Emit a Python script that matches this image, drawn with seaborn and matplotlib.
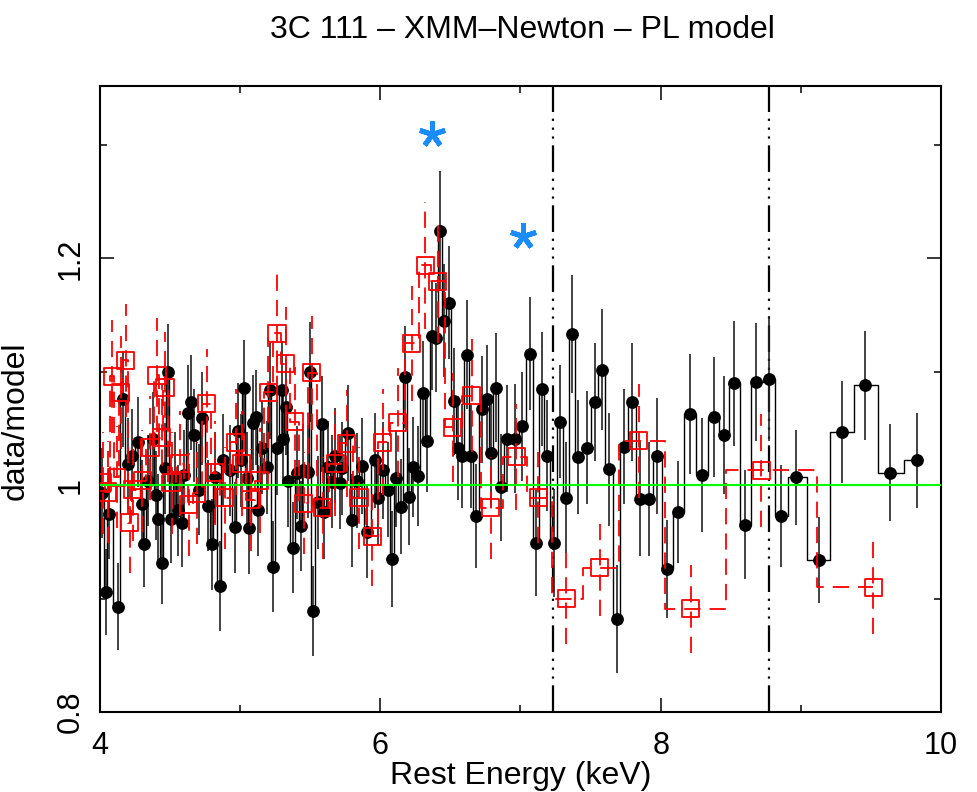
import numpy as np
import matplotlib
matplotlib.use("Agg")
import matplotlib.pyplot as plt
import seaborn as sns

# pn ratio (black filled circles)
energy_pn = [4.014, 4.043, 4.064, 4.128, 4.164, 4.200, 4.228, 4.271, 4.300, 4.314,
             4.342, 4.378, 4.400, 4.414, 4.442, 4.464, 4.485, 4.507, 4.535, 4.556,
             4.585, 4.599, 4.628, 4.649, 4.671, 4.706, 4.728, 4.770, 4.799, 4.820,
             4.856, 4.877, 4.927, 4.963, 4.985, 5.006, 5.027, 5.049, 5.063, 5.092,
             5.113, 5.127, 5.156, 5.191, 5.213, 5.234, 5.263, 5.298, 5.306, 5.327,
             5.341, 5.377, 5.405, 5.434, 5.448, 5.484, 5.498, 5.520, 5.555, 5.584,
             5.598, 5.627, 5.655, 5.677, 5.712, 5.726, 5.769, 5.798, 5.833, 5.869,
             5.905, 5.962, 5.983, 6.019, 6.055, 6.083, 6.112, 6.147, 6.176, 6.204,
             6.233, 6.269, 6.304, 6.333, 6.369, 6.397, 6.426, 6.454, 6.490, 6.525,
             6.554, 6.582, 6.618, 6.646, 6.682, 6.725, 6.761, 6.789, 6.825, 6.861,
             6.904, 6.961, 7.011, 7.068, 7.111, 7.153, 7.189, 7.239, 7.282, 7.325,
             7.367, 7.410, 7.474, 7.531, 7.581, 7.631, 7.688, 7.738, 7.795, 7.852,
             7.917, 7.974, 8.045, 8.124, 8.209, 8.295, 8.380, 8.452, 8.523, 8.602,
             8.680, 8.773, 8.858, 8.965, 9.129, 9.294, 9.458, 9.636, 9.829]
ratio_pn = [0.993, 0.906, 0.975, 0.893, 1.076, 1.019, 1.026, 1.038, 0.983, 0.948,
            1.004, 1.041, 0.991, 0.970, 0.931, 1.015, 1.100, 0.970, 1.007, 0.978,
            0.967, 1.009, 1.064, 1.073, 1.044, 0.996, 1.059, 0.982, 0.948, 1.007,
            0.911, 1.022, 1.013, 0.963, 1.048, 1.022, 1.086, 1.006, 0.962, 1.055,
            1.060, 0.978, 1.033, 1.016, 1.084, 0.928, 1.033, 1.084, 1.041, 1.069,
            1.004, 0.945, 1.011, 0.964, 1.013, 1.012, 1.100, 0.889, 0.985, 1.054,
            0.976, 1.016, 1.003, 1.026, 1.002, 1.015, 1.046, 0.969, 1.004, 1.017,
            0.959, 1.022, 0.989, 1.013, 0.996, 0.935, 1.006, 0.981, 1.095, 0.990,
            1.016, 1.008, 1.081, 1.039, 1.132, 1.130, 1.224, 1.145, 1.161, 1.074,
            1.033, 1.026, 1.115, 1.026, 0.973, 1.067, 1.076, 1.028, 1.086, 0.998,
            1.041, 1.041, 1.052, 1.116, 0.949, 1.085, 1.026, 0.949, 1.056, 0.989,
            1.133, 1.025, 1.033, 1.073, 1.102, 1.014, 0.882, 1.034, 1.073, 0.988,
            0.988, 1.026, 0.926, 0.976, 1.063, 1.009, 1.060, 1.044, 1.090, 0.965,
            1.091, 1.094, 0.973, 1.007, 0.934, 1.047, 1.088, 1.011, 1.022]
err_pn = [0.040, 0.038, 0.040, 0.038, 0.042, 0.040, 0.041, 0.040, 0.039, 0.038,
          0.040, 0.041, 0.039, 0.040, 0.036, 0.040, 0.042, 0.039, 0.040, 0.040,
          0.039, 0.040, 0.042, 0.042, 0.041, 0.040, 0.041, 0.040, 0.040, 0.040,
          0.040, 0.041, 0.040, 0.040, 0.042, 0.041, 0.042, 0.041, 0.040, 0.042,
          0.042, 0.040, 0.041, 0.041, 0.043, 0.040, 0.042, 0.043, 0.041, 0.042,
          0.041, 0.040, 0.041, 0.040, 0.041, 0.041, 0.044, 0.040, 0.041, 0.042,
          0.041, 0.041, 0.041, 0.042, 0.041, 0.041, 0.042, 0.041, 0.042, 0.042,
          0.041, 0.042, 0.042, 0.043, 0.042, 0.042, 0.043, 0.042, 0.045, 0.043,
          0.044, 0.044, 0.046, 0.045, 0.048, 0.048, 0.053, 0.050, 0.050, 0.047,
          0.046, 0.046, 0.048, 0.046, 0.046, 0.047, 0.048, 0.047, 0.048, 0.047,
          0.047, 0.048, 0.048, 0.050, 0.047, 0.050, 0.049, 0.048, 0.050, 0.049,
          0.052, 0.050, 0.050, 0.052, 0.053, 0.050, 0.048, 0.051, 0.052, 0.050,
          0.050, 0.051, 0.043, 0.045, 0.053, 0.050, 0.053, 0.052, 0.055, 0.048,
          0.052, 0.055, 0.045, 0.042, 0.038, 0.045, 0.048, 0.043, 0.042]

# MOS ratio (red open squares)
energy_mos = [4.021, 4.057, 4.086, 4.121, 4.150, 4.185, 4.214, 4.235, 4.300, 4.357,
              4.407, 4.442, 4.464, 4.514, 4.571, 4.635, 4.692, 4.763, 4.820, 4.892,
              4.970, 5.013, 5.077, 5.141, 5.199, 5.263, 5.327, 5.391, 5.455, 5.512,
              5.591, 5.677, 5.762, 5.848, 5.941, 6.019, 6.126, 6.226, 6.319, 6.411,
              6.518, 6.654, 6.789, 6.968, 7.125, 7.325, 7.567, 7.845, 8.216, 8.716,
              9.515]
ratio_mos = [1.002, 0.994, 1.096, 1.007, 1.082, 1.110, 0.967, 0.996, 1.004, 1.033,
             1.097, 1.042, 1.086, 1.002, 1.019, 0.983, 0.993, 1.072, 1.011, 0.989,
             1.038, 1.019, 0.987, 1.004, 1.082, 1.134, 1.107, 1.056, 0.984, 1.099,
             0.980, 1.019, 1.037, 0.989, 0.955, 1.038, 1.055, 1.125, 1.194, 1.180,
             1.051, 1.079, 0.980, 1.025, 0.989, 0.900, 0.927, 1.039, 0.891, 1.013,
             0.910]
err_mos = [0.045, 0.045, 0.050, 0.045, 0.050, 0.050, 0.044, 0.045, 0.045, 0.046,
           0.050, 0.047, 0.049, 0.045, 0.046, 0.045, 0.045, 0.048, 0.046, 0.045,
           0.047, 0.046, 0.045, 0.046, 0.049, 0.052, 0.050, 0.048, 0.045, 0.050,
           0.045, 0.046, 0.047, 0.045, 0.044, 0.047, 0.048, 0.051, 0.056, 0.055,
           0.048, 0.050, 0.045, 0.047, 0.040, 0.040, 0.042, 0.050, 0.039, 0.050,
           0.041]

# marked features
line_energies = [7.232, 8.773]
star_energy = [6.369, 7.018]
star_ratio = [1.310, 1.220]

sns.set_theme(style="ticks", rc={"axes.edgecolor": "black", "xtick.color": "black",
                                 "ytick.color": "black", "text.color": "black",
                                 "axes.labelcolor": "black"})
plt.rcParams["font.family"] = ["Liberation Sans", "DejaVu Sans"]

fig = plt.figure(figsize=(9.78, 7.92), dpi=100)
ax = fig.add_axes([0.1022, 0.1010, 0.8600, 0.7904])

dash_red = (0, (9, 5))

# black data
epn = np.array(energy_pn)
rpn = np.array(ratio_pn)
spn = np.array(err_pn)
ax.vlines(epn, rpn - spn, rpn + spn, colors="#222222", linewidth=1.2, zorder=2)
ax.step(epn, rpn, where="mid", color="black", linewidth=1.0, zorder=2)
sns.scatterplot(x=epn, y=rpn, color="black", s=85, linewidth=0, zorder=3, ax=ax)

# red data
emos = np.array(energy_mos)
rmos = np.array(ratio_mos)
smos = np.array(err_mos)
ax.vlines(emos, rmos - smos, rmos + smos, colors="red", linewidth=1.3,
          linestyles=[dash_red], zorder=4)
ax.step(emos, rmos, where="mid", color="red", linewidth=1.3, linestyle=dash_red, zorder=4)
sns.scatterplot(x=emos, y=rmos, marker="s", s=150, facecolor="none", edgecolor="red",
                linewidth=1.3, zorder=5, ax=ax)

# model
ax.axhline(1.0, color="#00ff00", linewidth=1.5, zorder=6)

for e in line_energies:
    ax.axvline(e, color="black", linewidth=1.6,
               linestyle=(0, (12, 3, 1, 3, 1, 3, 1, 3)), zorder=1)

ax.plot(star_energy, star_ratio, linestyle="none", marker=(5, 2, 0), markersize=19,
        markeredgewidth=3.6, color="#1a8cff", zorder=7)

ax.set_xlim(4, 10)
ax.set_ylim(0.8, 1.352)
ax.set_xticks([4, 6, 8, 10])
ax.set_xticklabels(["4", "6", "8", "10"])
ax.set_xticks([5, 7, 9], minor=True)
ax.set_yticks([0.8, 1.0, 1.2])
ax.set_yticklabels(["0.8", "1", "1.2"], rotation=90, va="center")
ax.set_yticks([0.9, 1.1, 1.3], minor=True)
ax.tick_params(which="both", direction="in", top=True, right=True, width=1.1,
               labelsize=22, colors="black")
ax.tick_params(which="major", length=10)
ax.tick_params(which="minor", length=5)
ax.tick_params(axis="x", pad=14)
ax.tick_params(axis="y", pad=10)
for sp in ax.spines.values():
    sp.set_linewidth(1.5)
    sp.set_color("black")

ax.set_xlabel("Rest Energy (keV)", fontsize=23, labelpad=0)
ax.set_ylabel("data/model", fontsize=23)
ax.yaxis.set_label_coords(-0.083, 0.465)

fig.text(0.534, 1 - 30 / 792, "3C 111 \u2013 XMM\u2013Newton \u2013 PL model",
         ha="center", va="center", fontsize=23)

fig.savefig("out.png", dpi=100)
